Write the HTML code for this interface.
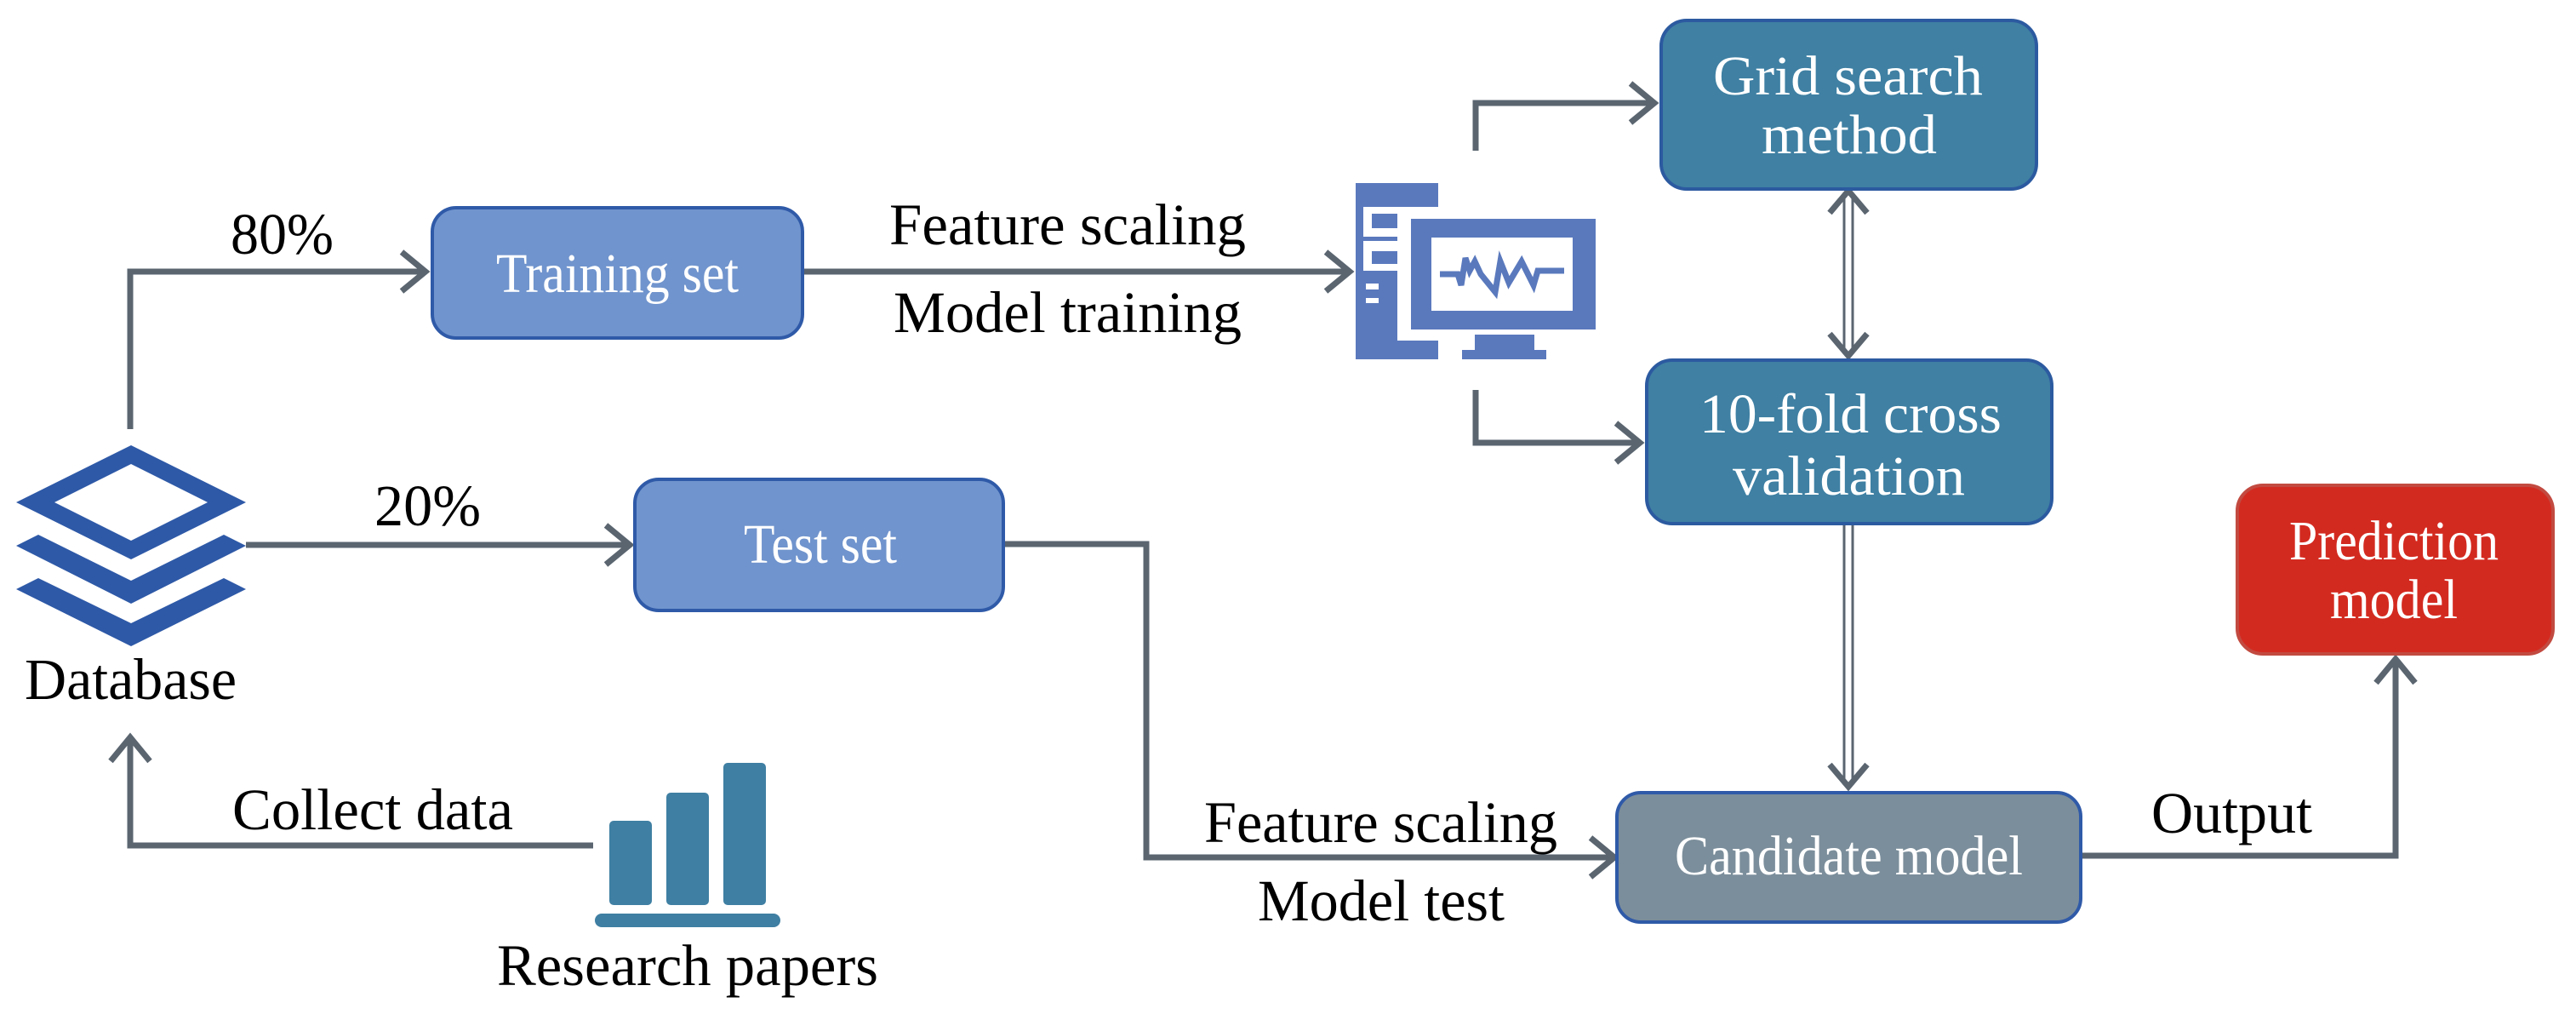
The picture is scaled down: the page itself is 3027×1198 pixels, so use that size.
<!DOCTYPE html>
<html><head><meta charset="utf-8"><style>html,body{margin:0;padding:0;background:#fff}svg{display:block}</style></head>
<body>
<svg width="3027" height="1198" viewBox="0 0 3027 1198" xmlns="http://www.w3.org/2000/svg">
<defs>
<marker id="ah" markerWidth="10" markerHeight="10" refX="8" refY="5" orient="auto" markerUnits="userSpaceOnUse" viewBox="0 0 10 10"/>
</defs>
<g fill="none" stroke="#5a6570" stroke-width="7" stroke-linejoin="miter">
<!-- 80% -->
<polyline points="153,504 153,319 500,319"/>
<polyline points="472,296 500,319 472,342"/>
<!-- 20% -->
<polyline points="289,640 740,640"/>
<polyline points="712,617 740,640 712,663"/>
<!-- Collect data -->
<polyline points="697,993 153,993 153,866"/>
<polyline points="130,894 153,866 176,894"/>
<!-- training to computer -->
<polyline points="943,319 1586,319"/>
<polyline points="1558,296 1586,319 1558,342"/>
<!-- to grid -->
<polyline points="1734,177 1734,121 1944,121"/>
<polyline points="1916,98 1944,121 1916,144"/>
<!-- to 10-fold -->
<polyline points="1734,458 1734,520 1927,520"/>
<polyline points="1899,497 1927,520 1899,543"/>
<!-- test set to candidate -->
<polyline points="1179,639 1347,639 1347,1007 1897,1007"/>
<polyline points="1869,984 1897,1007 1869,1030"/>
<!-- output -->
<polyline points="2445,1005 2815,1005 2815,774"/>
<polyline points="2792,802 2815,774 2838,802"/>
<!-- double arrow grid <-> 10fold -->
<polyline points="2150,250 2172,224 2194,250"/>
<polyline points="2150,392 2172,418 2194,392"/>
<!-- 10fold -> candidate -->
<polyline points="2150,898 2172,924 2194,898"/>
</g>
<g stroke="#5a6570" stroke-width="3" fill="none">
<line x1="2167" y1="226" x2="2167" y2="416"/>
<line x1="2177" y1="226" x2="2177" y2="416"/>
<line x1="2167" y1="616" x2="2167" y2="922"/>
<line x1="2177" y1="616" x2="2177" y2="922"/>
</g>
<!-- boxes -->
<rect x="508" y="244" width="435" height="153" rx="28" fill="#7094cd" stroke="#2f5aa8" stroke-width="4"/>
<rect x="746" y="563" width="433" height="154" rx="28" fill="#7094cd" stroke="#2f5aa8" stroke-width="4"/>
<rect x="1952" y="24" width="441" height="198" rx="30" fill="#3f80a3" stroke="#2c5aa0" stroke-width="4"/>
<rect x="1935" y="423" width="476" height="192" rx="30" fill="#3f80a3" stroke="#2c5aa0" stroke-width="4"/>
<rect x="1900" y="931" width="545" height="152" rx="28" fill="#7b8e9b" stroke="#2f5aa8" stroke-width="4"/>
<rect x="2629" y="570" width="371" height="198" rx="30" fill="#d32a20" stroke="#c24a40" stroke-width="4"/>
<!-- database icon -->
<g fill="#2e59a7">
<path fill-rule="evenodd" d="M154,523 L289,590 L154,657 L19,590 Z M154,545 L64,590 L154,635 L244,590 Z"/>
<polygon points="19,641 45,628 154,682 263,628 289,641 154,709"/>
<polygon points="19,692 45,679 154,732 263,679 289,692 154,759"/>
</g>
<!-- bar chart -->
<g fill="#3f7fa3">
<rect x="716" y="964" width="50" height="99" rx="5"/>
<rect x="783" y="931" width="50" height="132" rx="5"/>
<rect x="850" y="896" width="50" height="167" rx="5"/>
<rect x="699" y="1073" width="218" height="16" rx="8"/>
</g>
<!-- computer icon -->
<g fill="#5a79bd">
<rect x="1593" y="215" width="97" height="28"/>
<rect x="1593" y="215" width="9" height="207"/>
<rect x="1593" y="318" width="49" height="104"/>
<rect x="1593" y="400" width="97" height="22"/>
<rect x="1612" y="251" width="30" height="17"/>
<rect x="1612" y="295" width="30" height="15"/>
<rect x="1602" y="278" width="40" height="5"/>
<rect x="1658" y="257" width="217" height="130"/>
<rect x="1733" y="393" width="70" height="20"/>
<rect x="1718" y="411" width="99" height="11"/>
</g>
<g fill="#fff">
<rect x="1605" y="333" width="15" height="7"/>
<rect x="1605" y="350" width="15" height="6"/>
<rect x="1682" y="279" width="166" height="86"/>
</g>
<polyline fill="none" stroke="#5a79bd" stroke-width="7" points="1692,322 1713,322 1717,335 1722,303 1727,318 1733,307 1740,322 1757,343 1763,307 1773,332 1788,307 1802,335 1807,318 1838,318"/>
<!-- text -->
<g font-family="'Liberation Serif',serif" fill="#000" font-size="69">
<text x="271" y="298" textLength="121" lengthAdjust="spacingAndGlyphs">80%</text>
<text x="440" y="617" textLength="125" lengthAdjust="spacingAndGlyphs">20%</text>
<text x="29" y="821" textLength="249" lengthAdjust="spacingAndGlyphs">Database</text>
<text x="273" y="974" textLength="330" lengthAdjust="spacingAndGlyphs">Collect data</text>
<text x="584" y="1157" textLength="448" lengthAdjust="spacingAndGlyphs">Research papers</text>
<text x="1045" y="287" textLength="419" lengthAdjust="spacingAndGlyphs">Feature scaling</text>
<text x="1050" y="390" textLength="409" lengthAdjust="spacingAndGlyphs">Model training</text>
<text x="1415" y="989" textLength="415" lengthAdjust="spacingAndGlyphs">Feature scaling</text>
<text x="1478" y="1081" textLength="290" lengthAdjust="spacingAndGlyphs">Model test</text>
<text x="2528" y="978" textLength="189" lengthAdjust="spacingAndGlyphs">Output</text>
</g>
<g font-family="'Liberation Serif',serif" fill="#fff" font-size="66">
<text x="583" y="343" textLength="285" lengthAdjust="spacingAndGlyphs">Training set</text>
<text x="874" y="661" textLength="180" lengthAdjust="spacingAndGlyphs">Test set</text>
<text x="2013" y="111" textLength="317" lengthAdjust="spacingAndGlyphs">Grid search</text>
<text x="2070" y="180" textLength="206" lengthAdjust="spacingAndGlyphs">method</text>
<text x="1997" y="508" textLength="355" lengthAdjust="spacingAndGlyphs">10-fold cross</text>
<text x="2036" y="581" textLength="273" lengthAdjust="spacingAndGlyphs">validation</text>
<text x="1968" y="1027" textLength="409" lengthAdjust="spacingAndGlyphs">Candidate model</text>
<text x="2690" y="657" textLength="246" lengthAdjust="spacingAndGlyphs">Prediction</text>
<text x="2738" y="726" textLength="150" lengthAdjust="spacingAndGlyphs">model</text>
</g>
</svg>
</body></html>
